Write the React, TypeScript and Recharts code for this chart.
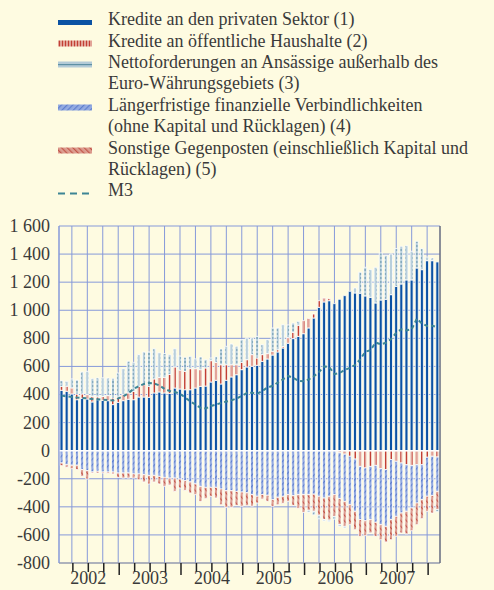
import React from 'react'
import {
  ComposedChart,
  Bar,
  Line,
  XAxis,
  YAxis,
  CartesianGrid,
  ReferenceLine,
} from 'recharts'

// monthly categories, Jan 2002 - Feb 2008
const years = [2002, 2003, 2004, 2005, 2006, 2007]
const lastMonths = ['2008-01', '2008-02']
const months: string[] = [
  ...years.flatMap((y) =>
    Array.from({ length: 12 }, (_, k) => `${y}-${String(k + 1).padStart(2, '0')}`)
  ),
  ...lastMonths,
]

// (1) Kredite an den privaten Sektor
const privateCredit = [
  430, 423, 404, 363, 373, 368, 347, 363, 358, 356, 328, 344,
  356, 366, 363, 382, 382, 380, 411, 418, 411, 408, 446, 439,
  434, 434, 446, 458, 460, 489, 501, 475, 501, 525, 541, 577,
  596, 601, 608, 636, 653, 681, 703, 731, 765, 798, 814, 833,
  874, 945, 1021, 1059, 1068, 1047, 1078, 1104, 1135, 1123, 1121, 1102,
  1092, 1052, 1073, 1078, 1111, 1170, 1187, 1216, 1216, 1301, 1289, 1353,
  1353, 1344,
]

// (2) Kredite an öffentliche Haushalte
const govCredit = [
  28, 36, 43, 40, 31, 31, 40, 20, 28, 36, 47, 38,
  43, 45, 59, 76, 88, 78, 100, 104, 111, 135, 150, 135,
  131, 150, 138, 119, 129, 152, 128, 137, 111, 87, 71, 52,
  52, 83, 52, 48, 38, 27, 16, 10, 40, 45, 79, 93,
  68, 28, 47, 28, 15, 0, -15, -25, -40, -60, -112, -123,
  -112, -105, -128, -135, -64, -76, -88, -100, -105, -100, -100, -47,
  -40, -45,
]

// (3) Nettoforderungen an Ansässige außerhalb des Euro-Währungsgebiets
const netExternal = [
  40, 35, 64, 100, 157, 166, 126, 135, 133, 125, 140, 171,
  185, 226, 207, 226, 233, 245, 215, 175, 170, 140, 130, 100,
  100, 88, 70, 90, 59, 19, 40, 112, 131, 148, 131, 162,
  154, 118, 154, 71, 100, 166, 155, 156, 90, 66, 28, 0,
  -15, -25, -25, -10, -10, -20, -12, -12, 0, 36, 150, 204,
  197, 254, 335, 313, 290, 269, 268, 244, 204, 190, 150, 26,
  19, -15,
]

// (4) Längerfristige finanzielle Verbindlichkeiten
const longTermLiab = [
  -88, -100, -104, -104, -135, -142, -152, -147, -152, -152, -152, -159,
  -159, -159, -166, -166, -171, -176, -176, -183, -190, -195, -195, -202,
  -214, -223, -237, -254, -261, -261, -261, -273, -285, -285, -290, -295,
  -300, -313, -325, -313, -318, -349, -332, -325, -313, -320, -313, -313,
  -313, -310, -325, -337, -325, -313, -327, -336, -345, -372, -379, -376,
  -379, -405, -399, -404, -427, -392, -356, -332, -303, -273, -249, -278,
  -280, -245,
]

// (5) Sonstige Gegenposten
const otherItems = [
  -19, -19, -24, -31, -48, -60, -7, -12, -7, -10, -14, -31,
  -36, -36, -29, -41, -52, -61, -47, -54, -64, -50, -95, -64,
  -69, -79, -76, -107, -81, -64, -76, -112, -119, -119, -100, -101,
  -92, -82, -48, -32, -42, -47, -53, -50, -48, -70, -97, -127,
  -112, -122, -135, -153, -170, -155, -185, -178, -142, -131, -119, -106,
  -95, -100, -107, -112, -143, -142, -142, -161, -162, -154, -135, -107,
  -124, -130,
]

// M3
const m3 = [
  392, 387, 382, 378, 375, 372, 368, 366, 363, 360, 358, 372,
  387, 410, 440, 460, 475, 482, 478, 465, 440, 425, 418, 405,
  378, 352, 328, 305, 300, 318, 328, 340, 350, 358, 372, 390,
  411, 412, 405, 425, 450, 462, 485, 508, 532, 518, 498, 494,
  508, 530, 560, 600, 595, 545, 553, 575, 590, 610, 650, 705,
  715, 770, 758, 768, 795, 840, 865, 856, 865, 940, 905, 888,
  890, 878,
]

const yTicks = [-800, -600, -400, -200, 0, 200, 400, 600, 800, 1000, 1200, 1400, 1600]
const quarterTicks = months.filter((m) => ['03', '06', '09', '12'].includes(m.slice(5)))

const data = months.map((month, i) => ({
  month,
  s1: privateCredit[i],
  s2: govCredit[i],
  s3: netExternal[i],
  s4: longTermLiab[i],
  s5: otherItems[i],
  m3: m3[i],
}))

const BG = '#fefbe1'
const GRID = '#8699d9'
const BLUE = '#0b52a3'
const M3_COLOR = '#3d8595'
const TEXT = '#3a3a3a'
const FONT = "'Liberation Serif', 'Times New Roman', serif"

const fmt = (v: number) => {
  const s = Math.abs(v).toString()
  const t = s.length > 3 ? `${s.slice(0, s.length - 3)} ${s.slice(-3)}` : s
  return v < 0 ? `-${t}` : t
}

/**
 * Hatch patterns, shared by legend and chart
 */
const Patterns = ({ prefix }: { prefix: string }) => (
  <defs>
    <pattern id={`${prefix}-s2`} width="3" height="4" patternUnits="userSpaceOnUse">
      <rect width="3" height="4" fill="#e2a397" />
      <rect x="1" width="1" height="4" fill="#c23f33" />
    </pattern>
    <pattern id={`${prefix}-s3`} width="4" height="4" patternUnits="userSpaceOnUse">
      <rect width="4" height="4" fill="#b8cfdc" />
      <rect x="0" y="1.5" width="2" height="1" fill="#55889e" />
    </pattern>
    <pattern
      id={`${prefix}-s4`}
      width="4"
      height="4"
      patternUnits="userSpaceOnUse"
      patternTransform="rotate(45)"
    >
      <rect width="4" height="4" fill="#94abe1" />
      <rect width="1.2" height="4" fill="#5f7fce" />
    </pattern>
    <pattern
      id={`${prefix}-s5`}
      width="4"
      height="4"
      patternUnits="userSpaceOnUse"
      patternTransform="rotate(-45)"
    >
      <rect width="4" height="4" fill="#dd9e91" />
      <rect width="1.2" height="4" fill="#c25649" />
    </pattern>
  </defs>
)

const legendItems = [
  { key: 's1', lines: ['Kredite an den privaten Sektor (1)'] },
  { key: 's2', lines: ['Kredite an öffentliche Haushalte (2)'] },
  { key: 's3', lines: ['Nettoforderungen an Ansässige außerhalb des', 'Euro-Währungsgebiets (3)'] },
  { key: 's4', lines: ['Längerfristige finanzielle Verbindlichkeiten', '(ohne Kapital und Rücklagen) (4)'] },
  { key: 's5', lines: ['Sonstige Gegenposten (einschließlich Kapital und', 'Rücklagen) (5)'] },
  { key: 'm3', lines: ['M3'] },
]

const LINE_H = 21.4
const LEGEND_TOP = 9.2

const Swatch = ({ kind }: { kind: string }) => {
  if (kind === 's1') return <rect x={0} y={3} width={34} height={5} fill={BLUE} />
  if (kind === 'm3')
    return <line x1={0} x2={34} y1={5.5} y2={5.5} stroke={M3_COLOR} strokeWidth={2} strokeDasharray="7 5" />
  if (kind === 's3')
    return (
      <g>
        <rect x={0} y={2.5} width={34} height={6} fill="#b3cbd7" />
        <rect x={0} y={5} width={34} height={1.2} fill="#5e90a4" />
      </g>
    )
  return <rect x={0} y={2.5} width={34} height={6} fill={`url(#lg-${kind})`} />
}

/**
 * Legend block above the chart
 */
const ChartLegend = () => {
  let row = 0
  return (
    <div>
      <svg width={0} height={0} style={{ position: 'absolute' }}>
        <Patterns prefix="lg" />
      </svg>
      {legendItems.map((item) => {
        const top = LEGEND_TOP + row * LINE_H
        row += item.lines.length
        return (
          <div key={item.key}>
            <svg
              width={34}
              height={11}
              style={{ position: 'absolute', left: 58, top: top + 16.8 - 4 - 5.5 }}
            >
              <Swatch kind={item.key} />
            </svg>
            {item.lines.map((line, k) => (
              <div
                key={k}
                style={{
                  position: 'absolute',
                  left: 108,
                  top: top + k * LINE_H,
                  lineHeight: `${LINE_H}px`,
                  fontSize: 18,
                  fontFamily: FONT,
                  color: TEXT,
                  whiteSpace: 'nowrap',
                }}
              >
                {line}
              </div>
            ))}
          </div>
        )
      })}
    </div>
  )
}

const LeftTick = ({ x, y, payload }: any) => (
  <text x={x - 9} y={y} dy="0.33em" textAnchor="end" fontSize={18} fontFamily={FONT} fill={TEXT}>
    {fmt(payload.value)}
  </text>
)

const RightTick = ({ x, y, payload }: any) => (
  <text
    x={x + 13 - (payload.value < 0 ? 6 : 0)}
    y={y}
    dy="0.33em"
    textAnchor="start"
    fontSize={18}
    fontFamily={FONT}
    fill={TEXT}
  >
    {fmt(payload.value)}
  </text>
)

const QuarterTick = ({ x, y, payload }: any) => {
  const [yr, mo] = String(payload.value).split('-')
  const len = mo === '12' ? 12 : 9
  return (
    <g>
      <line x1={x + 1} x2={x + 1} y1={y} y2={y + len} stroke="#222" strokeWidth={1.5} />
      {mo === '06' && (
        <text x={x + 1} y={y + 21} textAnchor="middle" fontSize={18} fontFamily={FONT} fill={TEXT}>
          {yr}
        </text>
      )}
    </g>
  )
}

export default function App() {
  return (
    <div
      style={{
        position: 'fixed',
        left: 0,
        top: 0,
        width: 494,
        height: 590,
        background: BG,
        overflow: 'hidden',
      }}
    >
      <ChartLegend />
      <div style={{ position: 'absolute', left: 0, top: 200 }}>
        <ComposedChart
          width={494}
          height={390}
          data={data}
          stackOffset="sign"
          barCategoryGap={1}
          margin={{ top: 26, right: 0, bottom: 0, left: 0 }}
        >
          <Patterns prefix="ch" />
          <CartesianGrid stroke={GRID} strokeWidth={1} />
          <XAxis
            dataKey="month"
            ticks={quarterTicks}
            interval={0}
            tickLine={false}
            tickSize={0}
            tickMargin={0}
            height={27}
            axisLine={{ stroke: '#9a9a9a' }}
            tick={<QuarterTick />}
          />
          <YAxis
            type="number"
            domain={[-800, 1600]}
            ticks={yTicks}
            interval={0}
            width={59}
            tickLine={false}
            tickSize={0}
            tickMargin={0}
            axisLine={{ stroke: GRID }}
            tick={<LeftTick />}
          />
          <YAxis
            yAxisId="right"
            orientation="right"
            type="number"
            domain={[-800, 1600]}
            ticks={yTicks}
            interval={0}
            width={54}
            tickLine={false}
            tickSize={0}
            tickMargin={0}
            axisLine={{ stroke: '#555' }}
            tick={<RightTick />}
          />
          <Bar dataKey="s1" stackId="a" fill={BLUE} stroke="#fff" strokeWidth={0.8} isAnimationActive={false} />
          <Bar dataKey="s2" stackId="a" fill="url(#ch-s2)" stroke="#fff" strokeWidth={0.8} isAnimationActive={false} />
          <Bar dataKey="s4" stackId="a" fill="url(#ch-s4)" stroke="#fff" strokeWidth={0.8} isAnimationActive={false} />
          <Bar dataKey="s5" stackId="a" fill="url(#ch-s5)" stroke="#fff" strokeWidth={0.8} isAnimationActive={false} />
          <Bar dataKey="s3" stackId="a" fill="url(#ch-s3)" stroke="#fff" strokeWidth={0.8} isAnimationActive={false} />
          <ReferenceLine y={0} stroke="#fff" strokeWidth={1.5} />
          <Line
            dataKey="m3"
            type="linear"
            stroke={M3_COLOR}
            strokeWidth={2}
            strokeDasharray="4 3"
            dot={false}
            isAnimationActive={false}
          />
        </ComposedChart>
      </div>
    </div>
  )
}
